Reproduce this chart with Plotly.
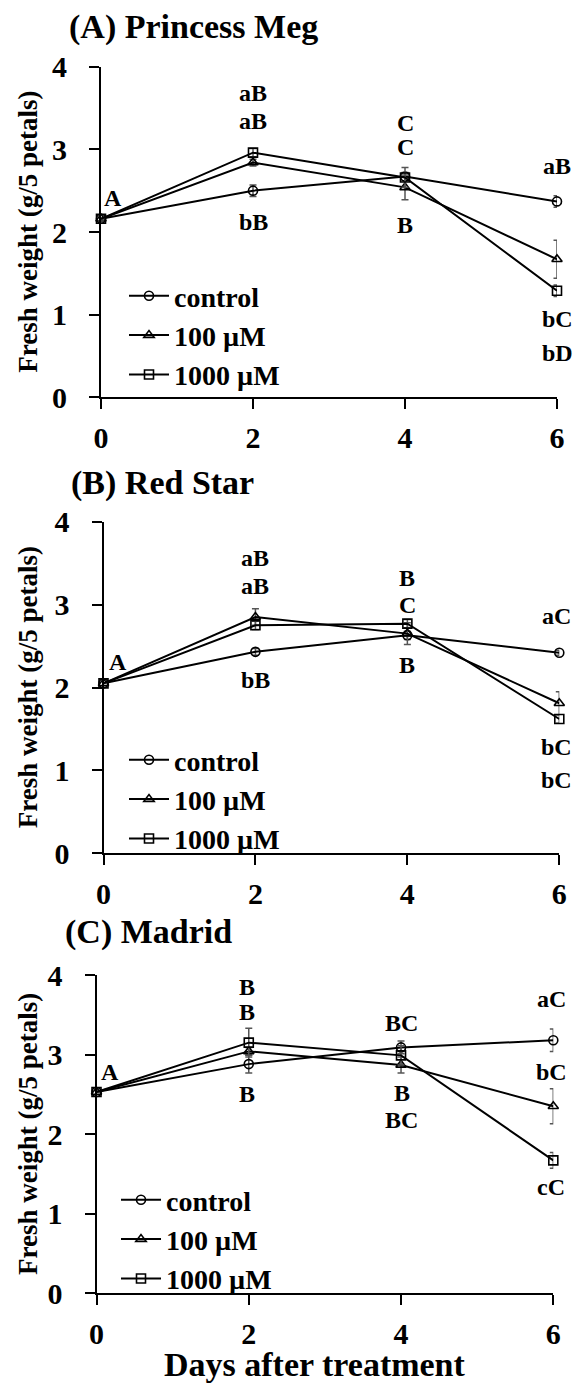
import plotly.graph_objects as go

days = [0, 2, 4, 6]
series_names = ["control", "100 µM", "1000 µM"]
symbols = ["circle-open", "triangle-up-open", "square-open"]

# Panel A - Princess Meg
a_control = [2.16, 2.50, 2.67, 2.37]
a_100 = [2.16, 2.84, 2.54, 1.67]
a_1000 = [2.16, 2.96, 2.66, 1.29]
a_control_err = [0, 0.07, 0.05, 0.07]
a_100_err = [0, 0.04, 0.15, 0.23]
a_1000_err = [0, 0.05, 0.12, 0.07]

# Panel B - Red Star
b_control = [2.05, 2.43, 2.63, 2.42]
b_100 = [2.05, 2.85, 2.65, 1.81]
b_1000 = [2.05, 2.75, 2.77, 1.62]
b_control_err = [0, 0.04, 0.05, 0.03]
b_100_err = [0, 0.10, 0.13, 0.14]
b_1000_err = [0, 0.05, 0.05, 0.05]

# Panel C - Madrid
c_control = [2.53, 2.88, 3.09, 3.18]
c_100 = [2.53, 3.04, 2.87, 2.35]
c_1000 = [2.53, 3.15, 2.99, 1.67]
c_control_err = [0, 0.11, 0.08, 0.14]
c_100_err = [0, 0.05, 0.10, 0.22]
c_1000_err = [0, 0.18, 0.12, 0.10]

panel_titles = ["(A) Princess Meg", "(B) Red Star", "(C) Madrid"]
y_ticks = [0, 1, 2, 3, 4]
x_ticks = [0, 2, 4, 6]

# significance letters: (x, y, text)
a_labels = [(0.16, 2.41, "A"), (2, 3.68, "aB"), (2, 3.34, "aB"), (2, 2.12, "bB"),
            (4, 3.32, "C"), (4, 3.03, "C"), (4, 2.08, "B"),
            (6, 2.80, "aB"), (6, 0.95, "bC"), (6, 0.54, "bD")]
b_labels = [(0.19, 2.31, "A"), (2, 3.56, "aB"), (2, 3.22, "aB"), (2, 2.09, "bB"),
            (4, 3.32, "B"), (4, 3.00, "C"), (4, 2.27, "B"),
            (5.96, 2.86, "aC"), (5.96, 1.28, "bC"), (5.96, 0.88, "bC")]
c_labels = [(0.18, 2.78, "A"), (1.98, 3.85, "B"), (1.98, 3.53, "B"), (1.98, 2.50, "B"),
            (4.01, 3.40, "BC"), (4.01, 2.52, "B"), (4.01, 2.18, "BC"),
            (5.97, 3.70, "aC"), (5.97, 2.78, "bC"), (5.97, 1.34, "cC")]

PAGE_W, PAGE_H = 581, 1384
OFF = 8  # page body margin
W, H = PAGE_W - OFF, PAGE_H - OFF
FONT = "Liberation Serif"


def px_x(v):
    return (v - OFF) / W


def px_y(v):
    return 1 - (v - OFF) / H


panels = [
    dict(vals=[a_control, a_100, a_1000], errs=[a_control_err, a_100_err, a_1000_err],
         labels=a_labels, xpx=(101, 557), ypx=(66.7, 397.3), title_x=67, title_y=27,
         leg_x=124, leg_y=271),
    dict(vals=[b_control, b_100, b_1000], errs=[b_control_err, b_100_err, b_1000_err],
         labels=b_labels, xpx=(103.5, 559.3), ypx=(521.7, 853.3), title_x=69, title_y=483,
         leg_x=124, leg_y=735),
    dict(vals=[c_control, c_100, c_1000], errs=[c_control_err, c_100_err, c_1000_err],
         labels=c_labels, xpx=(96.5, 553.3), ypx=(975, 1293.3), title_x=63, title_y=932,
         leg_x=116, leg_y=1175),
]

fig = go.Figure()
annotations = []
layout = {}
for i, p in enumerate(panels):
    n = i + 1
    xa = "x" if n == 1 else f"x{n}"
    ya = "y" if n == 1 else f"y{n}"
    leg = "legend" if n == 1 else f"legend{n}"
    for k in range(3):
        fig.add_trace(go.Scatter(
            x=days, y=p["vals"][k], name=series_names[k], mode="lines+markers",
            xaxis=xa, yaxis=ya, legend=leg, cliponaxis=False,
            line=dict(color="black", width=2),
            marker=dict(symbol=symbols[k], size=9, color="black", line=dict(width=1.6, color="black")),
            error_y=dict(type="data", array=p["errs"][k], visible=True, color="#555555",
                         thickness=1.5, width=3.5),
        ))
    x0, x1 = p["xpx"]
    y0, y1 = p["ypx"]
    axis_common = dict(showline=True, linecolor="black", linewidth=2, ticks="outside",
                       ticklen=10, tickwidth=2, tickcolor="black", showgrid=False, zeroline=False,
                       automargin=False,
                       tickfont=dict(family=FONT, size=30, color="black", weight="bold"))
    layout["xaxis" if n == 1 else f"xaxis{n}"] = dict(
        domain=[px_x(x0), px_x(x1)], range=[0, 6], tickvals=x_ticks, anchor=ya,
        ticklabelstandoff=3, **axis_common)
    layout["yaxis" if n == 1 else f"yaxis{n}"] = dict(
        domain=[px_y(y1), px_y(y0)], range=[0, 4], tickvals=y_ticks, anchor=xa,
        ticklabelstandoff=16, **axis_common)
    layout[leg] = dict(x=px_x(p["leg_x"]), y=px_y(p["leg_y"]), xanchor="left", yanchor="top",
                       bgcolor="rgba(0,0,0,0)", borderwidth=0, itemwidth=40,
                       font=dict(family=FONT, size=28, color="black", weight="bold"))
    for (lx, ly, txt) in p["labels"]:
        annotations.append(dict(x=lx, y=ly, xref=xa, yref=ya, text=txt, showarrow=False,
                                font=dict(family=FONT, size=24, color="black", weight="bold")))
    annotations.append(dict(x=px_x(p["title_x"]), y=px_y(p["title_y"]), xref="paper", yref="paper",
                            xanchor="left", yanchor="middle", text=panel_titles[i], showarrow=False,
                            font=dict(family=FONT, size=34, color="black", weight="bold")))
    annotations.append(dict(x=px_x(27.8), y=px_y((y0 + y1) / 2), xref="paper", yref="paper",
                            xanchor="center", yanchor="middle", textangle=-90,
                            text="Fresh weight (g/5 petals)", showarrow=False,
                            font=dict(family=FONT, size=27, color="black", weight="bold")))

annotations.append(dict(x=px_x(314.5), y=px_y(1364), xref="paper", yref="paper",
                        xanchor="center", yanchor="middle", text="Days after treatment",
                        showarrow=False, font=dict(family=FONT, size=34, color="black", weight="bold")))

fig.update_layout(width=W, height=H, margin=dict(l=0, r=0, t=0, b=0, autoexpand=False),
                  plot_bgcolor="white", paper_bgcolor="white", showlegend=True,
                  annotations=annotations, **layout)
fig.write_html("out.html")
